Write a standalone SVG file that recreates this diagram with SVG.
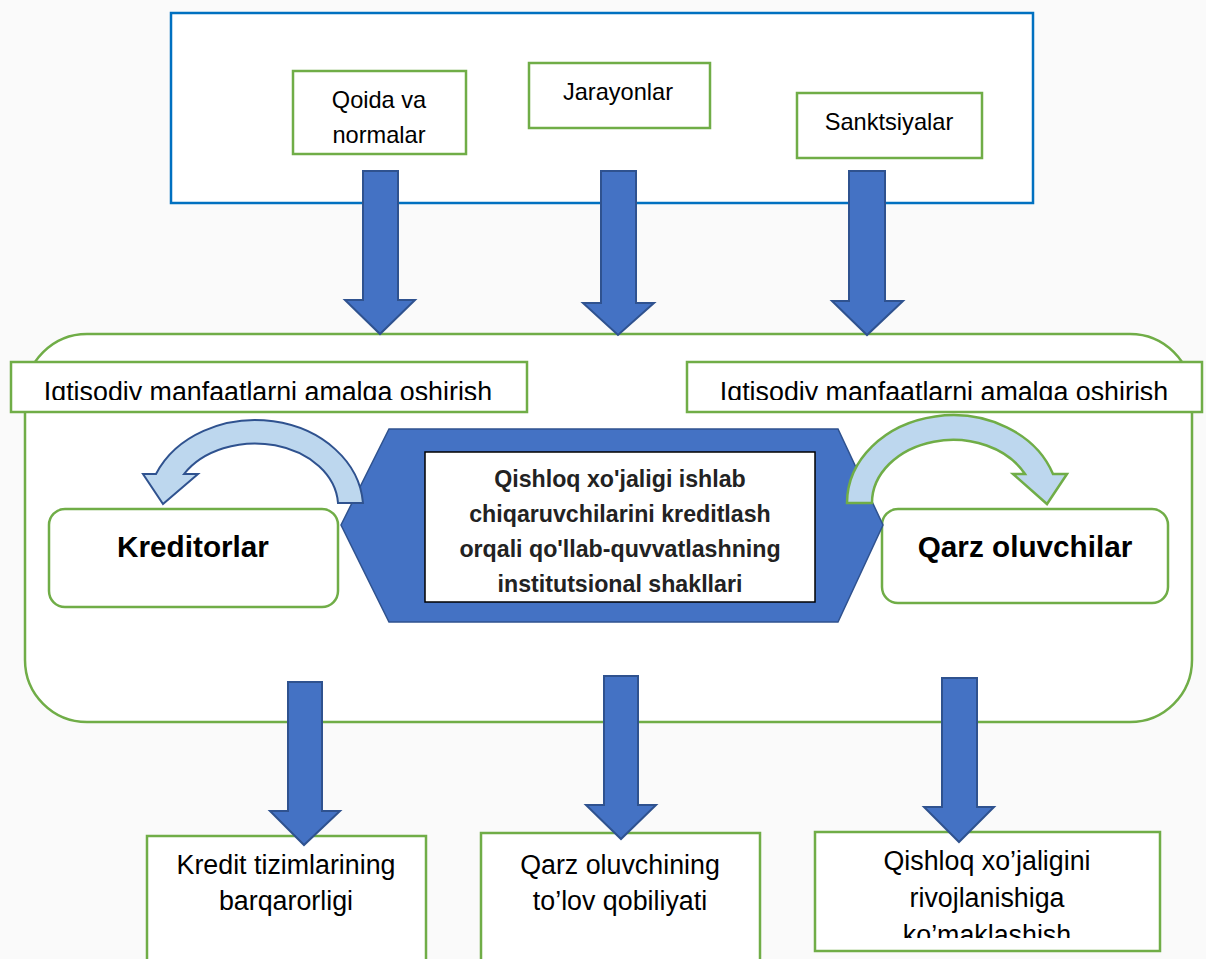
<svg xmlns="http://www.w3.org/2000/svg" width="1206" height="959" viewBox="0 0 1206 959">
<style>
  .bg{fill:#fafafa}
  .gbox{fill:#ffffff;stroke:#70ad47;stroke-width:2.5}
  .bbox{fill:#ffffff;stroke:#0070c0;stroke-width:2.5}
  .arr{fill:#4472c4;stroke:#2f528f;stroke-width:2;stroke-linejoin:miter}
  .t{font-family:"Liberation Sans",Arial,sans-serif;fill:#000;text-anchor:middle}
  .s24{font-size:23.6px}
  .s27{font-size:26.8px}
  .b30{font-size:29.7px;font-weight:bold}
  .b23{font-size:23.2px;font-weight:bold;fill:#222}
</style>
<defs>
  <clipPath id="clipL"><rect x="11" y="362" width="516" height="38"/></clipPath>
  <clipPath id="clipR"><rect x="687" y="362" width="515" height="38"/></clipPath>
  <clipPath id="clipB3"><rect x="815" y="832" width="345" height="106"/></clipPath>
</defs>
<rect class="bg" x="0" y="0" width="1206" height="959"/>

<g id="top-frame">
  <rect class="bbox" x="171" y="13" width="862" height="190"/>
</g>
<g id="node-qoida">
  <rect class="gbox" x="293" y="71" width="173" height="83"/>
  <text class="t s24" x="379" y="108">Qoida va</text>
  <text class="t s24" x="379" y="143">normalar</text>
</g>
<g id="node-jarayonlar">
  <rect class="gbox" x="529" y="63" width="181" height="65"/>
  <text class="t s24" x="618" y="100">Jarayonlar</text>
</g>
<g id="node-sanktsiyalar">
  <rect class="gbox" x="797" y="93" width="185" height="65"/>
  <text class="t s24" x="889" y="130">Sanktsiyalar</text>
</g>

<g id="main-frame">
  <rect class="gbox" x="25" y="334" width="1167" height="388" rx="62" ry="62"/>
</g>

<g id="banner-left">
  <rect class="gbox" x="11" y="362" width="516" height="50"/>
  <text class="t s27" x="268" y="401" clip-path="url(#clipL)">Iqtisodiy manfaatlarni amalga oshirish</text>
</g>
<g id="banner-right">
  <rect class="gbox" x="687" y="362" width="515" height="50"/>
  <text class="t s27" x="944" y="401" clip-path="url(#clipR)">Iqtisodiy manfaatlarni amalga oshirish</text>
</g>

<g id="node-kreditorlar">
  <rect class="gbox" x="49" y="509" width="289" height="98" rx="16" ry="16"/>
  <text class="t b30" x="193" y="557">Kreditorlar</text>
</g>
<g id="node-qarz">
  <rect class="gbox" x="882" y="509" width="286" height="94" rx="16" ry="16"/>
  <text class="t b30" x="1025" y="557">Qarz oluvchilar</text>
</g>

<g id="node-center">
  <polygon points="389,429 838,429 883,525 838,622 389,622 341,525" fill="#4472c4" stroke="#2f528f" stroke-width="1.5"/>
  <rect x="425" y="452" width="390" height="150" fill="#ffffff" stroke="#000" stroke-width="1.5"/>
  <text class="t b23" x="620" y="487">Qishloq xo'jaligi ishlab</text>
  <text class="t b23" x="620" y="522">chiqaruvchilarini kreditlash</text>
  <text class="t b23" x="620" y="557">orqali qo'llab-quvvatlashning</text>
  <text class="t b23" x="620" y="592">institutsional shakllari</text>
</g>

<g id="node-b1">
  <rect class="gbox" x="147" y="836" width="279" height="140"/>
  <text class="t s27" x="286" y="874">Kredit tizimlarining</text>
  <text class="t s27" x="286" y="910">barqarorligi</text>
</g>
<g id="node-b2">
  <rect class="gbox" x="481" y="833" width="279" height="140"/>
  <text class="t s27" x="620" y="874">Qarz oluvchining</text>
  <text class="t s27" x="620" y="910">to’lov qobiliyati</text>
</g>
<g id="node-b3">
  <rect class="gbox" x="815" y="832" width="345" height="119"/>
  <g clip-path="url(#clipB3)">
    <text class="t s27" x="987" y="870">Qishloq xo’jaligini</text>
    <text class="t s27" x="987" y="907">rivojlanishiga</text>
    <text class="t s27" x="987" y="944">ko’maklashish</text>
  </g>
</g>

<g id="connectors">
  <polygon class="arr" points="363,171 398,171 398,300 415,300 380,334 345,300 363,300"/>
  <polygon class="arr" points="601,171 636,171 636,303 654,303 618,335 583,303 601,303"/>
  <polygon class="arr" points="849,171 885,171 885,301 903,301 867,335 832,301 849,301"/>
  <path d="M363,503 A108,89 0 0 0 156,474 L143,474 L163,504 L198,474 L184,474 A83,63 0 0 1 338,503 Z" fill="#bdd7ee" stroke="#2f528f" stroke-width="2"/>
  <path d="M847,503 A106,88 0 0 1 1053,474 L1067,474 L1047,504 L1013,474 L1025,474 A81,63 0 0 0 872,503 Z" fill="#bdd7ee" stroke="#70ad47" stroke-width="2.5"/>
  <polygon class="arr" points="288,682 322,682 322,811 340,811 304,845 270,811 288,811"/>
  <polygon class="arr" points="604,676 638,676 638,805 656,805 621,839 586,805 604,805"/>
  <polygon class="arr" points="942,678 977,678 977,807 994,807 959,842 924,807 942,807"/>
</g>
</svg>
